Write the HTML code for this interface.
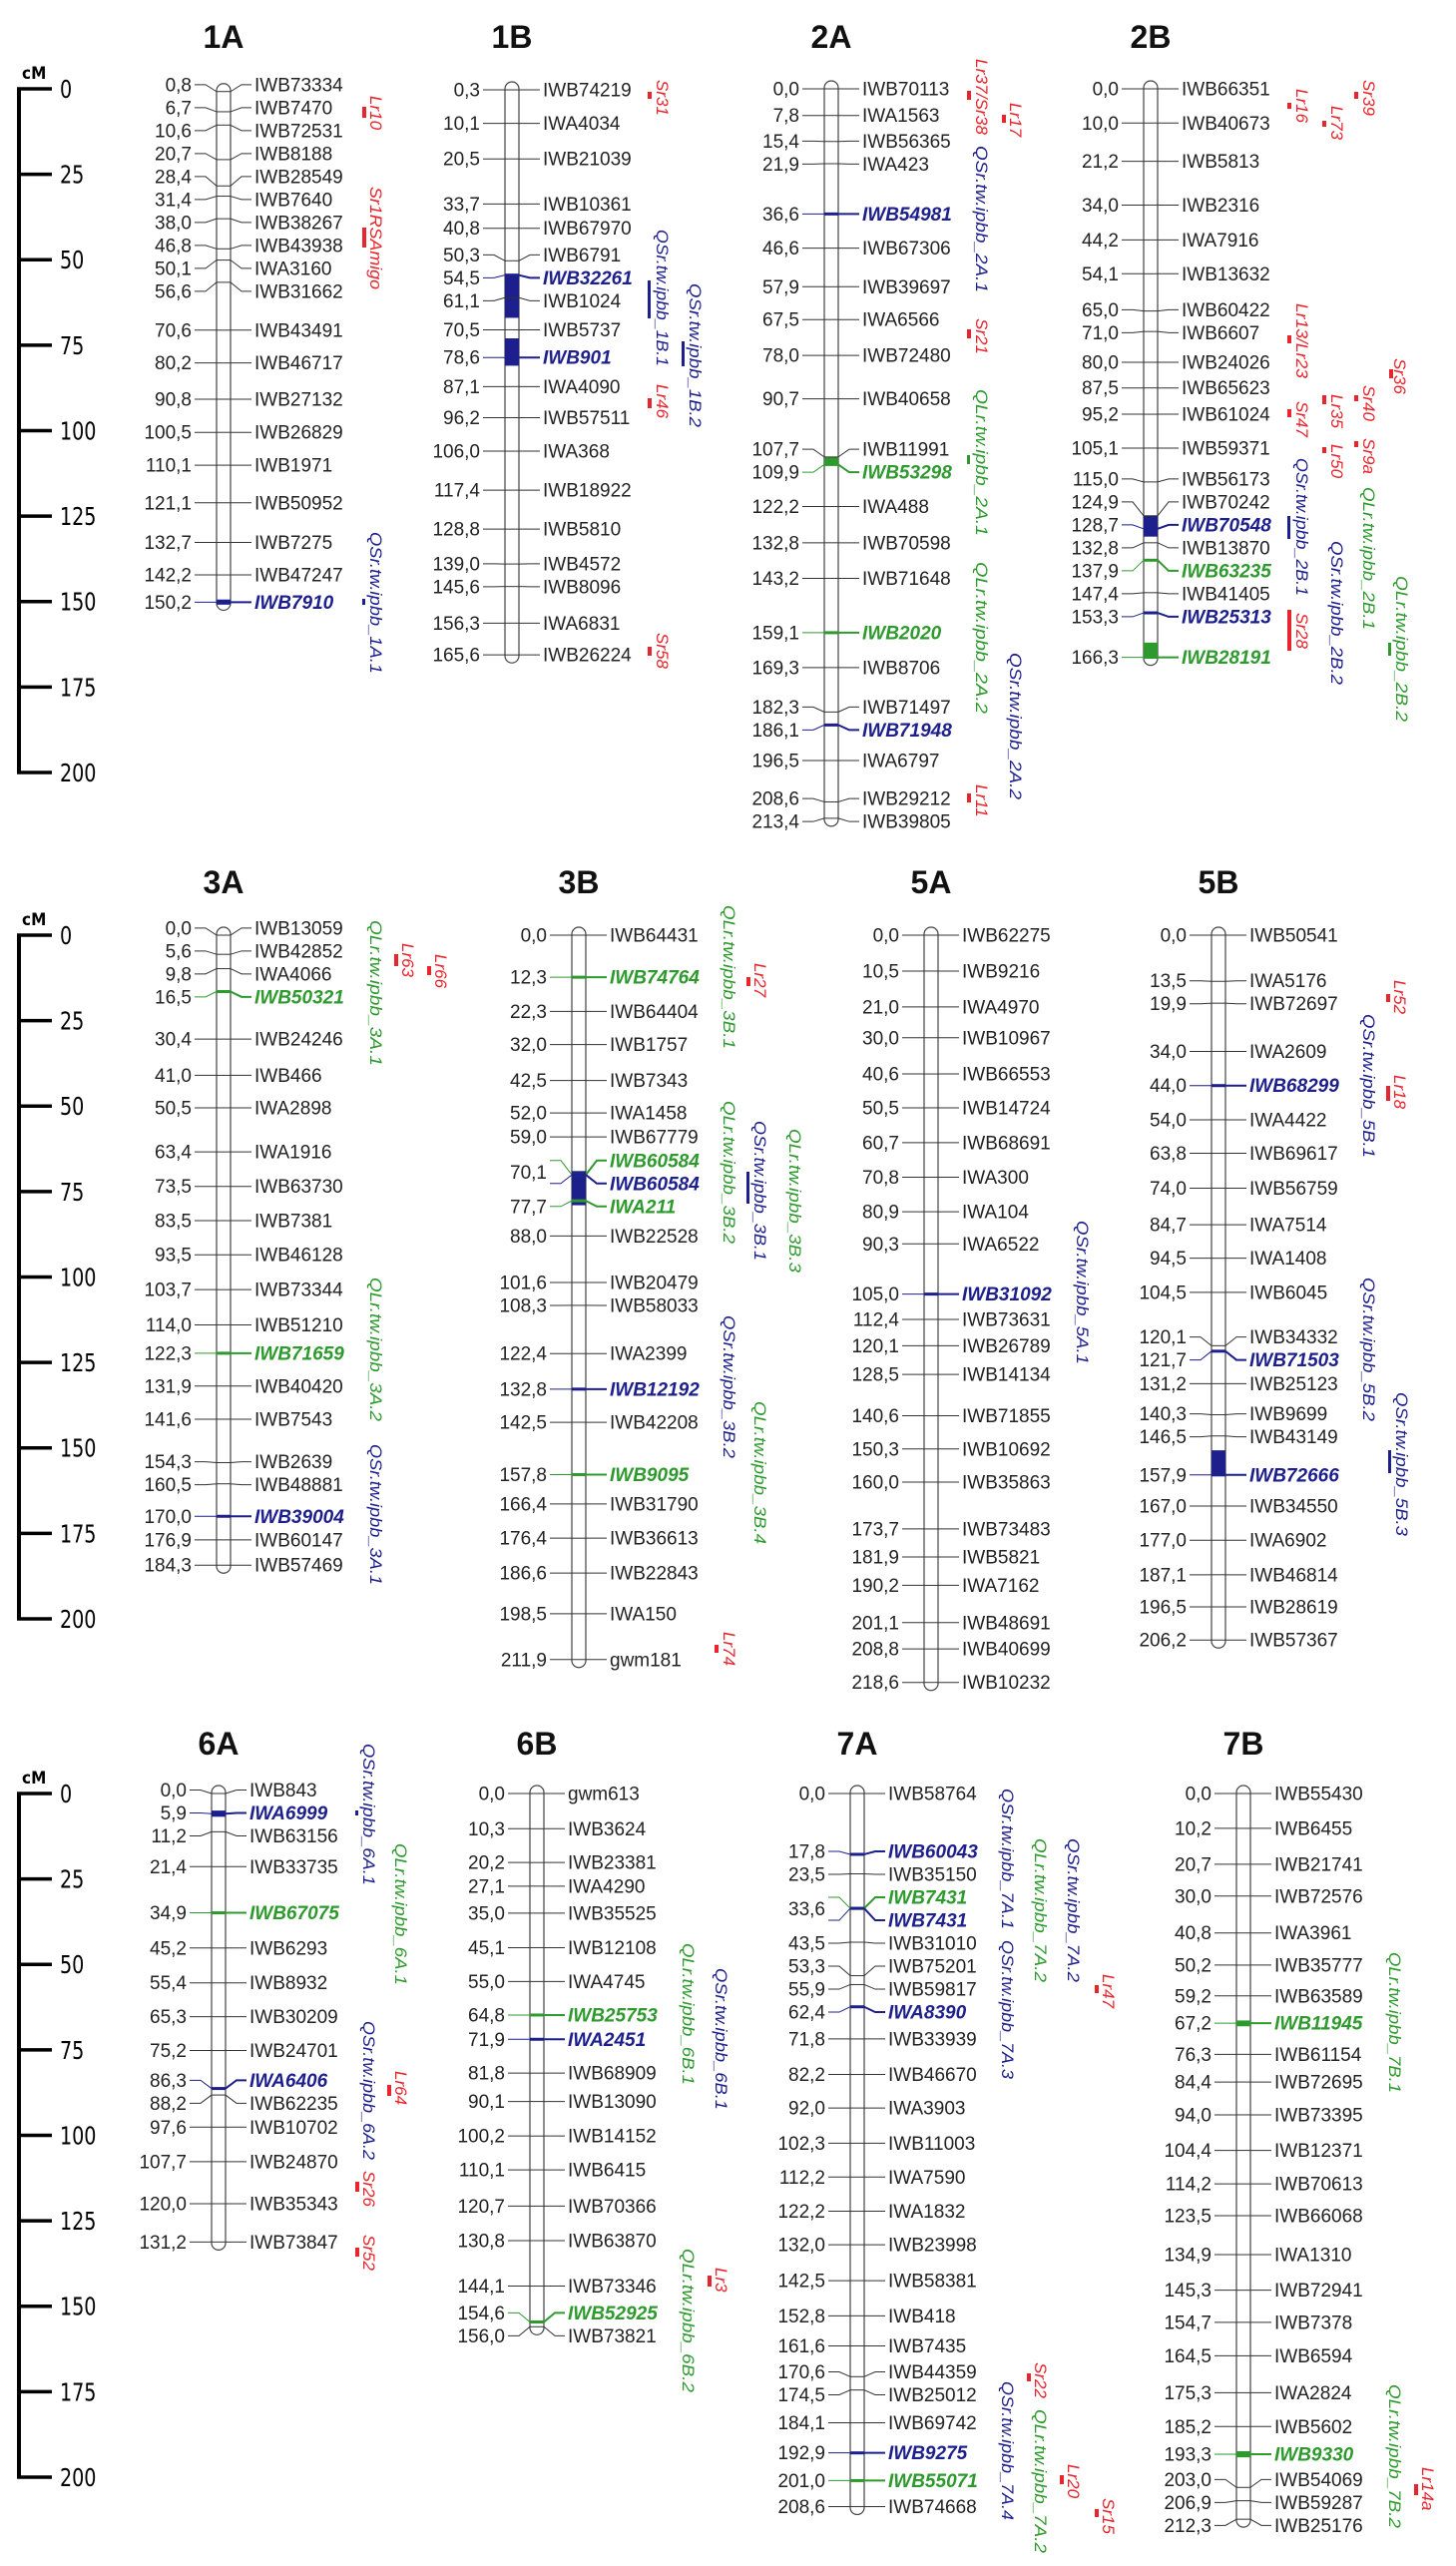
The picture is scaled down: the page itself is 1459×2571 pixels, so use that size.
<!DOCTYPE html>
<html><head><meta charset="utf-8">
<style>
html,body{margin:0;padding:0;background:#fff;}
svg{display:block;font-family:"Liberation Sans",sans-serif;}
</style></head>
<body>
<svg id="map" width="1459" height="2571" viewBox="0 0 1459 2571" xmlns="http://www.w3.org/2000/svg"></svg>
<script>
// ---- data: marker positions (cM), names, highlight types ----
const pos1A=[0.8,6.7,10.6,20.7,28.4,31.4,38.0,46.8,50.1,56.6,70.6,80.2,90.8,100.5,110.1,121.1,132.7,142.2,150.2];
const names1A=["IWB73334","IWB7470","IWB72531","IWB8188","IWB28549","IWB7640","IWB38267","IWB43938","IWA3160","IWB31662","IWB43491","IWB46717","IWB27132","IWB26829","IWB1971","IWB50952","IWB7275","IWB47247","IWB7910"];
const hl1A={"IWB7910":"b"};
const pos1B=[0.3,10.1,20.5,33.7,40.8,50.3,54.5,61.1,70.5,78.6,87.1,96.2,106.0,117.4,128.8,139.0,145.6,156.3,165.6];
const names1B=["IWB74219","IWA4034","IWB21039","IWB10361","IWB67970","IWB6791","IWB32261","IWB1024","IWB5737","IWB901","IWA4090","IWB57511","IWA368","IWB18922","IWB5810","IWB4572","IWB8096","IWA6831","IWB26224"];
const hl1B={"IWB32261":"b","IWB901":"b"};
const pos2A=[0.0,7.8,15.4,21.9,36.6,46.6,57.9,67.5,78.0,90.7,107.7,109.9,122.2,132.8,143.2,159.1,169.3,182.3,186.1,196.5,208.6,213.4];
const names2A=["IWB70113","IWA1563","IWB56365","IWA423","IWB54981","IWB67306","IWB39697","IWA6566","IWB72480","IWB40658","IWB11991","IWB53298","IWA488","IWB70598","IWB71648","IWB2020","IWB8706","IWB71497","IWB71948","IWA6797","IWB29212","IWB39805"];
const hl2A={"IWB54981":"b","IWB53298":"g","IWB2020":"g","IWB71948":"b"};
const pos2B=[0.0,10.0,21.2,34.0,44.2,54.1,65.0,71.0,80.0,87.5,95.2,105.1,115.0,124.9,128.7,132.8,137.9,147.4,153.3,166.3];
const names2B=["IWB66351","IWB40673","IWB5813","IWB2316","IWA7916","IWB13632","IWB60422","IWB6607","IWB24026","IWB65623","IWB61024","IWB59371","IWB56173","IWB70242","IWB70548","IWB13870","IWB63235","IWB41405","IWB25313","IWB28191"];
const hl2B={"IWB70548":"b","IWB63235":"g","IWB25313":"b","IWB28191":"g"};
const pos3A=[0.0,5.6,9.8,16.5,30.4,41.0,50.5,63.4,73.5,83.5,93.5,103.7,114.0,122.3,131.9,141.6,154.3,160.5,170.0,176.9,184.3];
const names3A=["IWB13059","IWB42852","IWA4066","IWB50321","IWB24246","IWB466","IWA2898","IWA1916","IWB63730","IWB7381","IWB46128","IWB73344","IWB51210","IWB71659","IWB40420","IWB7543","IWB2639","IWB48881","IWB39004","IWB60147","IWB57469"];
const hl3A={"IWB50321":"g","IWB71659":"g","IWB39004":"b"};
const pos3B=[0.0,12.3,22.3,32.0,42.5,52.0,59.0,70.1,70.1,77.7,88.0,101.6,108.3,122.4,132.8,142.5,157.8,166.4,176.4,186.6,198.5,211.9];
const names3B=["IWB64431","IWB74764","IWB64404","IWB1757","IWB7343","IWA1458","IWB67779","IWB60584","IWB60584 ","IWA211","IWB22528","IWB20479","IWB58033","IWA2399","IWB12192","IWB42208","IWB9095","IWB31790","IWB36613","IWB22843","IWA150","gwm181"];
const hl3B={"IWB74764":"g","IWB60584":"g","IWB60584 ":"b","IWA211":"g","IWB12192":"b","IWB9095":"g"};
const pos5A=[0.0,10.5,21.0,30.0,40.6,50.5,60.7,70.8,80.9,90.3,105.0,112.4,120.1,128.5,140.6,150.3,160.0,173.7,181.9,190.2,201.1,208.8,218.6];
const names5A=["IWB62275","IWB9216","IWA4970","IWB10967","IWB66553","IWB14724","IWB68691","IWA300","IWA104","IWA6522","IWB31092","IWB73631","IWB26789","IWB14134","IWB71855","IWB10692","IWB35863","IWB73483","IWB5821","IWA7162","IWB48691","IWB40699","IWB10232"];
const hl5A={"IWB31092":"b"};
const pos5B=[0.0,13.5,19.9,34.0,44.0,54.0,63.8,74.0,84.7,94.5,104.5,120.1,121.7,131.2,140.3,146.5,157.9,167.0,177.0,187.1,196.5,206.2];
const names5B=["IWB50541","IWA5176","IWB72697","IWA2609","IWB68299","IWA4422","IWB69617","IWB56759","IWA7514","IWA1408","IWB6045","IWB34332","IWB71503","IWB25123","IWB9699","IWB43149","IWB72666","IWB34550","IWA6902","IWB46814","IWB28619","IWB57367"];
const hl5B={"IWB68299":"b","IWB71503":"b","IWB72666":"b"};
const pos6A=[0.0,5.9,11.2,21.4,34.9,45.2,55.4,65.3,75.2,86.3,88.2,97.6,107.7,120.0,131.2];
const names6A=["IWB843","IWA6999","IWB63156","IWB33735","IWB67075","IWB6293","IWB8932","IWB30209","IWB24701","IWA6406","IWB62235","IWB10702","IWB24870","IWB35343","IWB73847"];
const hl6A={"IWA6999":"b","IWB67075":"g","IWA6406":"b"};
const pos6B=[0.0,10.3,20.2,27.1,35.0,45.1,55.0,64.8,71.9,81.8,90.1,100.2,110.1,120.7,130.8,144.1,154.6,156.0];
const names6B=["gwm613","IWB3624","IWB23381","IWA4290","IWB35525","IWB12108","IWA4745","IWB25753","IWA2451","IWB68909","IWB13090","IWB14152","IWB6415","IWB70366","IWB63870","IWB73346","IWB52925","IWB73821"];
const hl6B={"IWB25753":"g","IWA2451":"b","IWB52925":"g"};
const pos7A=[0.0,17.8,23.5,33.6,33.6,43.5,53.3,55.9,62.4,71.8,82.2,92.0,102.3,112.2,122.2,132.0,142.5,152.8,161.6,170.6,174.5,184.1,192.9,201.0,208.6];
const names7A=["IWB58764","IWB60043","IWB35150","IWB7431","IWB7431 ","IWB31010","IWB75201","IWB59817","IWA8390","IWB33939","IWB46670","IWA3903","IWB11003","IWA7590","IWA1832","IWB23998","IWB58381","IWB418","IWB7435","IWB44359","IWB25012","IWB69742","IWB9275","IWB55071","IWB74668"];
const hl7A={"IWB60043":"b","IWB7431":"g","IWB7431 ":"b","IWA8390":"b","IWB9275":"b","IWB55071":"g"};
const pos7B=[0.0,10.2,20.7,30.0,40.8,50.2,59.2,67.2,76.3,84.4,94.0,104.4,114.2,123.5,134.9,145.3,154.7,164.5,175.3,185.2,193.3,203.0,206.9,212.3];
const names7B=["IWB55430","IWB6455","IWB21741","IWB72576","IWA3961","IWB35777","IWB63589","IWB11945","IWB61154","IWB72695","IWB73395","IWB12371","IWB70613","IWB66068","IWA1310","IWB72941","IWB7378","IWB6594","IWA2824","IWB5602","IWB9330","IWB54069","IWB59287","IWB25176"];
const hl7B={"IWB11945":"g","IWB9330":"g"};
// QTL intervals filled on chromosome bars (cM from, cM to, colour)
const fill1A=[[149.4,150.9,"b"]];
const fill1B=[[54.5,67.0,"b"],[73.0,81.0,"b"]];
const fill2A=[[107.7,109.9,"g"]];
const fill2B=[[124.9,131.0,"b"],[162.0,166.3,"g"]];
const fill3B=[[69.0,79.0,"b"]];
const fill5B=[[150.7,157.9,"b"]];
const fill6A=[[5.0,6.8,"b"]];
const fill7B=[[66.4,68.1,"g"],[192.4,194.2,"g"]];
const tickLabels=["0","25","50","75","100","125","150","175","200"];

const COL={b:"#1d1f8c",g:"#2e9a2e",r:"#e8242c",k:"#222"};
const PPC=3.425;
// annotations: [text, colour, dx, yTop, yBot, barDx, barY1, barY2]
const rows=[
 {y0:89,titleY:48,chroms:[
  {id:"1A",cx:224,pos:pos1A,names:names1A,hl:hl1A,fill:fill1A,ann:[
   ["Lr10","r",153,96,131,141,107,118],["Sr1RSAmigo","r",153,187,290,141,228,248],["QSr.tw.ipbb_1A.1","b",153,533,675,141,600,606]]},
  {id:"1B",cx:513,pos:pos1B,names:names1B,hl:hl1B,fill:fill1B,ann:[
   ["Sr31","r",151,80,115,138,92,99],["QSr.tw.ipbb_1B.1","b",151,230,367,138,281,319],["QSr.tw.ipbb_1B.2","b",184,284,428,172,342,367],["Lr46","r",151,385,422,138,399,409],["Sr58","r",151,634,669,138,648,657]]},
  {id:"2A",cx:833,pos:pos2A,names:names2A,hl:hl2A,fill:fill2A,ann:[
   ["Lr37/Sr38","r",151,59,135,138,91,100],["Lr17","r",185,103,141,173,115,123],["QSr.tw.ipbb_2A.1","b",151,146,293,0,0,0],["Sr21","r",151,319,353,138,330,339],["QLr.tw.ipbb_2A.1","g",151,390,537,138,456,465],["QLr.tw.ipbb_2A.2","g",151,563,715,0,0,0],["QSr.tw.ipbb_2A.2","b",185,654,801,0,0,0],["Lr11","r",151,786,821,138,795,804]]},
  {id:"2B",cx:1153,pos:pos2B,names:names2B,hl:hl2B,fill:fill2B,ann:[
   ["Sr39","r",219,80,115,206,92,99],["Lr16","r",152,89,123,139,103,109],["Lr73","r",187,106,144,174,121,127],["Lr13/Lr23","r",152,304,379,139,336,344],["Sr36","r",250,359,393,241,370,379],["Lr35","r",187,395,428,174,396,405],["Sr40","r",219,386,422,206,396,402],["Sr47","r",152,402,437,139,410,418],["Lr50","r",187,445,479,174,448,454],["Sr9a","r",219,439,474,206,442,448],["QSr.tw.ipbb_2B.1","b",152,459,597,139,517,540],["QLr.tw.ipbb_2B.1","g",219,488,631,0,0,0],["QSr.tw.ipbb_2B.2","b",187,542,686,0,0,0],["Sr28","r",152,614,652,139,611,652],["QLr.tw.ipbb_2B.2","g",252,577,723,240,644,657]]}
 ]},
 {y0:937,titleY:895,chroms:[
  {id:"3A",cx:224,pos:pos3A,names:names3A,hl:hl3A,fill:[],ann:[
   ["QLr.tw.ipbb_3A.1","g",153,922,1068,0,0,0],["Lr63","r",185,945,979,173,956,968],["Lr66","r",218,956,993,206,968,977],["QLr.tw.ipbb_3A.2","g",153,1280,1424,0,0,0],["QSr.tw.ipbb_3A.1","b",153,1447,1588,0,0,0]]},
  {id:"3B",cx:580,pos:pos3B,names:names3B,hl:hl3B,fill:fill3B,ann:[
   ["QLr.tw.ipbb_3B.1","g",151,907,1051,0,0,0],["Lr27","r",182,965,1002,170,979,988],["QLr.tw.ipbb_3B.2","g",151,1103,1246,0,0,0],["QSr.tw.ipbb_3B.1","b",182,1123,1263,170,1174,1206],["QLr.tw.ipbb_3B.3","g",217,1131,1275,0,0,0],["QSr.tw.ipbb_3B.2","b",151,1318,1461,0,0,0],["QLr.tw.ipbb_3B.4","g",182,1404,1547,0,0,0],["Lr74","r",151,1635,1671,138,1648,1656]]},
  {id:"5A",cx:933,pos:pos5A,names:names5A,hl:hl5A,fill:[],ann:[
   ["QSr.tw.ipbb_5A.1","b",152,1223,1367,0,0,0]]},
  {id:"5B",cx:1221,pos:pos5B,names:names5B,hl:hl5B,fill:fill5B,ann:[
   ["Lr52","r",182,982,1016,170,996,1004],["QSr.tw.ipbb_5B.1","b",151,1016,1160,0,0,0],["Lr18","r",182,1077,1114,170,1088,1103],["QSr.tw.ipbb_5B.2","b",151,1280,1424,0,0,0],["QSr.tw.ipbb_5B.3","b",184,1395,1539,172,1453,1476]]}
 ]},
 {y0:1797,titleY:1758,chroms:[
  {id:"6A",cx:219,pos:pos6A,names:names6A,hl:hl6A,fill:fill6A,ann:[
   ["QSr.tw.ipbb_6A.1","b",151,1747,1889,139,1814,1819],["QLr.tw.ipbb_6A.1","g",183,1847,1989,0,0,0],["QSr.tw.ipbb_6A.2","b",151,2025,2164,0,0,0],["Lr64","r",183,2075,2111,171,2089,2100],["Sr26","r",151,2175,2211,139,2186,2196],["Sr52","r",151,2239,2275,139,2252,2261]]},
  {id:"6B",cx:538,pos:pos6B,names:names6B,hl:hl6B,fill:[],ann:[
   ["QLr.tw.ipbb_6B.1","g",152,1947,2089,0,0,0],["QSr.tw.ipbb_6B.1","b",185,1972,2114,0,0,0],["Lr3","r",185,2272,2300,173,2280,2291],["QLr.tw.ipbb_6B.2","g",152,2253,2397,0,0,0]]},
  {id:"7A",cx:859,pos:pos7A,names:names7A,hl:hl7A,fill:[],ann:[
   ["QSr.tw.ipbb_7A.1","b",151,1792,1933,0,0,0],["QLr.tw.ipbb_7A.2","g",184,1842,1986,0,0,0],["QSr.tw.ipbb_7A.2","b",217,1842,1986,0,0,0],["QSr.tw.ipbb_7A.3","b",151,1944,2083,0,0,0],["Lr47","r",252,1978,2011,240,1989,1997],["Sr22","r",184,2367,2403,172,2378,2386],["QSr.tw.ipbb_7A.4","b",151,2386,2525,0,0,0],["QLr.tw.ipbb_7A.2","g",184,2414,2558,0,0,0],["Lr20","r",217,2469,2506,205,2480,2489],["Sr15","r",252,2503,2536,240,2514,2522]]},
  {id:"7B",cx:1246,pos:pos7B,names:names7B,hl:hl7B,fill:fill7B,ann:[
   ["QLr.tw.ipbb_7B.1","g",152,1956,2097,0,0,0],["QLr.tw.ipbb_7B.2","g",152,2389,2533,0,0,0],["Lr14a","r",185,2472,2508,173,2489,2500]]}
 ]}
];

const svg=document.getElementById('map');
const NS="http://www.w3.org/2000/svg";
function mk(tag,attrs,parent,text){
  const e=document.createElementNS(NS,tag);
  for(const k in attrs) e.setAttribute(k,attrs[k]);
  if(text!==undefined) e.textContent=text;
  (parent||svg).appendChild(e);
  return e;
}
function layout(ideal,gap){
  let blocks=ideal.map((y,i)=>({idx:[i],top:y}));
  let changed=true;
  while(changed){
    changed=false;
    for(let j=1;j<blocks.length;j++){
      const a=blocks[j-1],b=blocks[j];
      if(b.top<a.top+a.idx.length*gap-0.01){
        const idx=a.idx.concat(b.idx);
        let s=0; idx.forEach((ii,k)=>{s+=ideal[ii]-k*gap;});
        blocks.splice(j-1,2,{idx:idx,top:s/idx.length});
        changed=true;break;
      }
    }
  }
  const out=[];
  blocks.forEach(b=>b.idx.forEach((ii,k)=>{out[ii]=b.top+k*gap;}));
  return out;
}
function fmt(v){return v.toFixed(1).replace('.',',');}

rows.forEach((row,ri)=>{
  const yOf=cm=>row.y0+cm*PPC;
  const sg=mk('g',{},svg);
  
  
  mk('line',{x1:19,y1:yOf(0)-1.5,x2:19,y2:yOf(200)+1.5,stroke:"#000","stroke-width":4},sg);
  const cmL=mk('text',{x:22,y:yOf(0)-10,"font-size":17,"font-weight":"bold","font-family":"'DejaVu Sans Condensed','DejaVu Sans',sans-serif"},sg,"cM");
  
  
  tickLabels.forEach((t,i)=>{
    const v=parseFloat(t);
    mk('line',{x1:17,y1:yOf(v),x2:52,y2:yOf(v),stroke:"#000","stroke-width":3.5},sg);
    const tl=mk('text',{x:60/0.85,y:yOf(v)+9,"font-size":25,"font-family":"'DejaVu Sans Condensed','DejaVu Sans',sans-serif",transform:'scale(0.85,1)'},sg,t);
    
    
  });
  row.chroms.forEach(ch=>{
    const g=mk('g',{},svg);
    
    
    const cx=ch.cx;
    const ti=mk('text',{x:cx,y:row.titleY,"font-size":32,"font-weight":"bold","text-anchor":"middle",fill:"#111"},g,ch.id);
    
    
    const ymin=yOf(Math.min(...ch.pos)),ymax=yOf(Math.max(...ch.pos));
    const bar=mk('rect',{x:cx-7,y:ymin-8,width:14,height:ymax-ymin+16,rx:7,ry:7,fill:"#fff",stroke:"#444","stroke-width":1.2},g);
    
    
    ch.fill.forEach(f=>{
      const r=mk('rect',{x:cx-7,y:yOf(f[0]),width:14,height:Math.max(2,(f[1]-f[0])*PPC),fill:COL[f[2]]},g);
      
      
    });
    const ideal=ch.pos.map(yOf);
    const ly=layout(ideal,23);
    ch.pos.forEach((p,i)=>{
      const my=yOf(p),y=ly[i];
      const t=ch.hl[ch.names[i]];
      const c=t?COL[t]:"#333";
      const sw=t?2:1;
      mk('line',{x1:cx-7,y1:my,x2:cx+7,y2:my,stroke:c,"stroke-width":t?3:1},g);
      mk('polyline',{points:`${cx-29},${y} ${cx-18},${y} ${cx-7},${my}`,fill:"none",stroke:t?c:"#333","stroke-width":1},g);
      mk('polyline',{points:`${cx+7},${my} ${cx+18},${y} ${cx+28},${y}`,fill:"none",stroke:c,"stroke-width":sw},g);
      const dupPrev=i>0&&ch.pos[i-1]===p;
      const dupNext=i<ch.pos.length-1&&ch.pos[i+1]===p;
      if(!dupPrev){
        const ny=dupNext?(y+ly[i+1])/2:y;
        const nt=mk('text',{x:cx-32,y:ny+6.5,"font-size":19,"text-anchor":"end",fill:"#222"},g,fmt(p));
        
        
      }
      const at={x:cx+31,y:y+6.5,"font-size":19,fill:t?c:"#222"};
      if(t){at["font-weight"]="bold";at["font-style"]="italic";}
      const mt=mk('text',at,g,ch.names[i].trim());
      
      
    });
    ch.ann.forEach(a=>{
      const [txt,cl,dx,y1,y2,bdx,by1,by2]=a;
      const x=cx+dx-6;
      const len=y2-y1;
      const attrs={x:0,y:0,"font-size":17,"font-style":"italic",fill:COL[cl],transform:`translate(${x},${y1}) rotate(90)`};
      if(txt.length>6){attrs.textLength=len;attrs.lengthAdjust="spacingAndGlyphs";}
      const at=mk('text',attrs,g,txt);
      
      
      if(bdx){
        const bl=mk('rect',{x:cx+bdx-2,y:by1,width:cl==='r'?4:3,height:Math.max(3,by2-by1),fill:COL[cl]},g);
        
        
      }
    });
  });
});
</script>
</body></html>
